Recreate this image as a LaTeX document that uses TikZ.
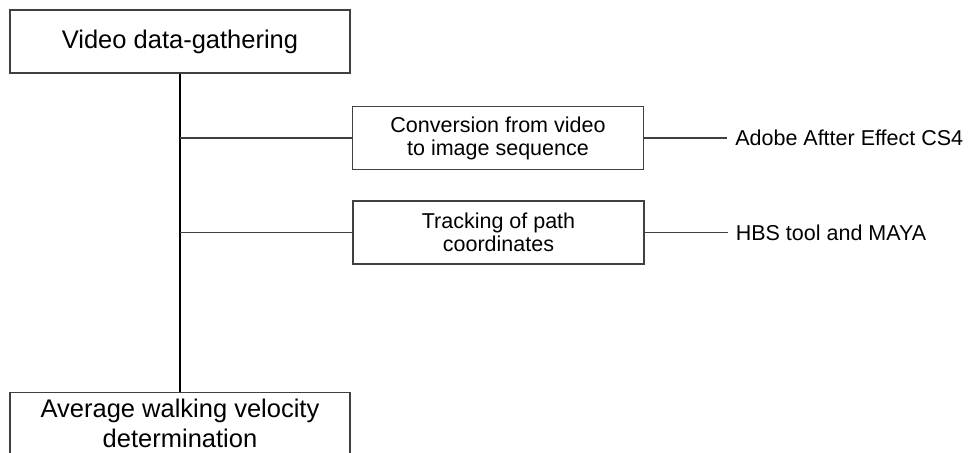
\documentclass[tikz,border=0pt]{standalone}
\usepackage{fontspec}
\setmainfont{Liberation Sans}
\usepackage{tikz}
\usetikzlibrary{positioning,calc}
\definecolor{boxline}{rgb}{.25,.25,.25}

\begin{document}
\begin{tikzpicture}[x=1pt,y=-1pt,% styles for the whole picture
	every node/.style={
		align=center		% so that "\\" breaks the line
		},
	bigbox/.style={rectangle,draw=boxline,line width=1.2pt,minimum width=340pt,
		font=\fontsize{25.5}{30}\selectfont},
	smallbox/.style={rectangle,draw=boxline,line width=1.2pt,minimum width=291pt,minimum height=63pt,
		font=\fontsize{21.5}{23}\selectfont},
	toolname/.style={rectangle,inner xsep=8pt,font=\fontsize{21.5}{23}\selectfont},
	spine/.style={draw,line width=2.6pt},
	branch/.style={draw=boxline,line width=1.2pt}
	]
	\useasboundingbox (0,0) rectangle (973,452);
	\node[bigbox,minimum height=63pt](V1) at (180,41.5){Video data-gathering};
	\node[bigbox,anchor=north,inner ysep=6pt](V4) at (180,392){Average walking velocity \\ determination};
	\node[smallbox](V2) at (498,138){Conversion from video \\ to image sequence};
	\node[smallbox](V3) at (498.5,232.5){Tracking of path \\ coordinates};
	\node[toolname,anchor=west](T2)[right=83pt of V2]{Adobe Aftter Effect CS4};
	\node[toolname,anchor=west](T3)[right=83pt of V3]{HBS tool and MAYA};
	\path[spine] (V1) -- (V4);
	\path[branch]
	(V1.south |- V2)edge [] (V2)
	(V1.south |- V3)edge [] (V3)
	(V2)edge [] (T2)
	(V3)edge [] (T3)
	;
\end{tikzpicture}
\end{document}
